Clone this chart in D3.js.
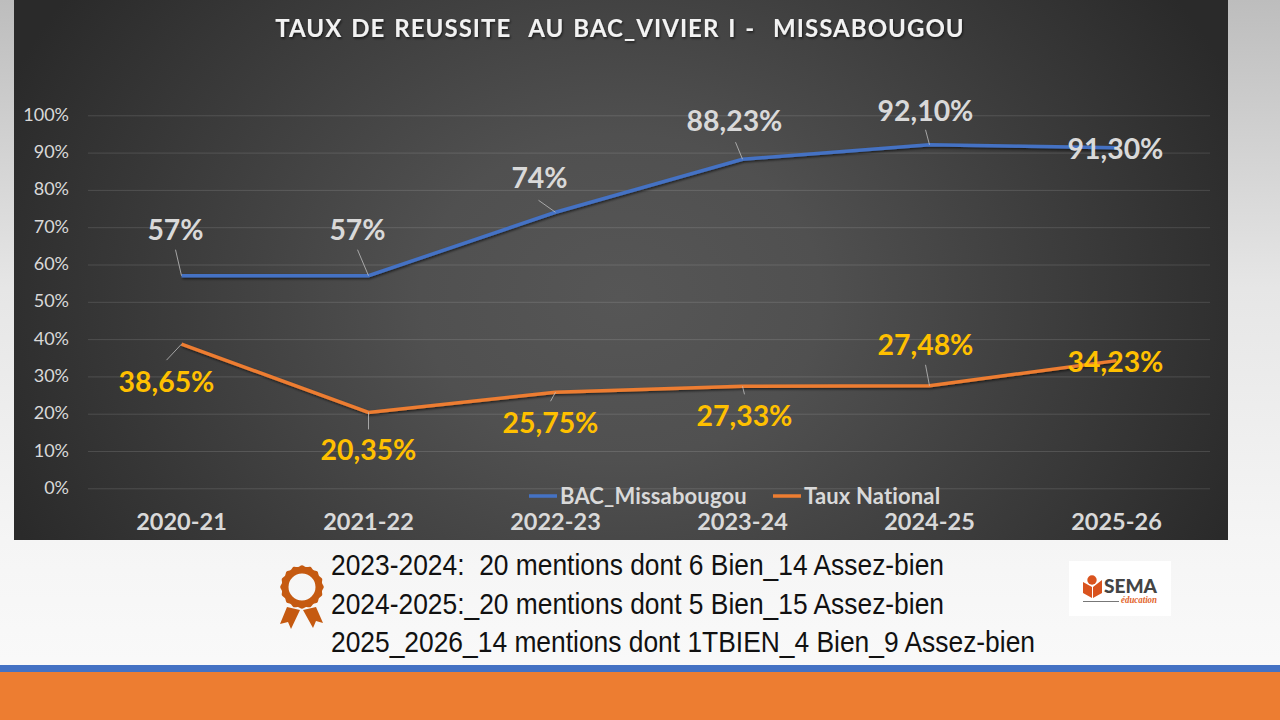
<!DOCTYPE html>
<html lang="fr">
<head>
<meta charset="UTF-8">
<title>Taux de reussite au BAC</title>
<script src="https://d3js.org/d3.v7.min.js"></script>
<style>
    html, body { margin: 0; padding: 0; overflow: hidden; }
    svg { display: block; }
    text { white-space: pre; }
</style>
</head>
<body>
<svg id="chart" width="1280" height="720"></svg>
<script>
// Data
const years = ['2020-21', '2021-22', '2022-23', '2023-24', '2024-25', '2025-26'];
const bacMissabougou = [57, 57, 74, 88.23, 92.1, 91.3];
const tauxNational = [38.65, 20.35, 25.75, 27.33, 27.48, 34.23];
const bacLabels = ['57%', '57%', '74%', '88,23%', '92,10%', '91,30%'];
const nationalLabels = ['38,65%', '20,35%', '25,75%', '27,33%', '27,48%', '34,23%'];
const yTicks = [0, 10, 20, 30, 40, 50, 60, 70, 80, 90, 100];
const seriesNames = ['BAC_Missabougou', 'Taux National'];
const titleText = 'TAUX DE REUSSITE  AU BAC_VIVIER I -  MISSABOUGOU';
const mentions = [
    '2023-2024:  20 mentions dont 6 Bien_14 Assez-bien',
    '2024-2025:_20 mentions dont 5 Bien_15 Assez-bien',
    '2025_2026_14 mentions dont 1TBIEN_4 Bien_9 Assez-bien'
];

// label placement relative to its point: [dx, dy of label centre], leader start [dx, dy]
const bacOffsets = [[-6, -46, -6, -26], [-11, -46, -11, -26], [-16, -34, -17, -12], [-8, -38, -7, -17], [-4, -34, -4, -15], [-1, 1, 0, 0]];
const natOffsets = [[-15, 38, -15, 16], [0, 38, 0, 17], [-5, 31, -5, 9], [2, 30, 2, 8], [-4, -41, -4, -21], [-1, 1, 0, 0]];

const svg = d3.select('#chart');
const defs = svg.append('defs');

const pageGrad = defs.append('linearGradient').attr('id', 'pageBg')
    .attr('x1', 0).attr('y1', 0).attr('x2', 0).attr('y2', 1);
pageGrad.append('stop').attr('offset', '0%').attr('stop-color', '#bdbdbd');
pageGrad.append('stop').attr('offset', '40%').attr('stop-color', '#e6e6e6');
pageGrad.append('stop').attr('offset', '75%').attr('stop-color', '#f5f5f5');
pageGrad.append('stop').attr('offset', '100%').attr('stop-color', '#fbfbfb');

const panelGrad = defs.append('radialGradient').attr('id', 'panelBg')
    .attr('cx', 0.5).attr('cy', 0.55).attr('r', 1)
    .attr('gradientTransform', 'translate(0.5,0.55) scale(0.55,1) translate(-0.5,-0.55)');
panelGrad.append('stop').attr('offset', '0%').attr('stop-color', '#565656');
panelGrad.append('stop').attr('offset', '30%').attr('stop-color', '#505050');
panelGrad.append('stop').attr('offset', '100%').attr('stop-color', '#2a2a2a');

const shadow = defs.append('filter').attr('id', 'shadow')
    .attr('x', '-5%').attr('y', '-30%').attr('width', '110%').attr('height', '170%');
shadow.append('feDropShadow').attr('dx', 1).attr('dy', 1.5).attr('stdDeviation', 1.2)
    .attr('flood-color', '#000').attr('flood-opacity', 0.6);

// Background
svg.append('rect').attr('width', 1280).attr('height', 720).attr('fill', 'url(#pageBg)');
svg.append('rect').attr('x', 14).attr('y', 0).attr('width', 1214).attr('height', 540).attr('fill', 'url(#panelBg)');
svg.append('rect').attr('x', 0).attr('y', 665).attr('width', 1280).attr('height', 7).attr('fill', '#4472c4');
svg.append('rect').attr('x', 0).attr('y', 672).attr('width', 1280).attr('height', 48).attr('fill', '#ed7d31');

// Scales
const x = d3.scaleBand().domain(years).range([88, 1210]);
const y = d3.scaleLinear().domain([0, 100]).range([488.3, 115.3]);
const cx = d => x(d) + x.bandwidth() / 2;

// Title
svg.append('text').attr('x', 620).attr('y', 37)
    .attr('text-anchor', 'middle')
    .attr('font-family', 'Lato').attr('font-weight', 700).attr('font-size', 24)
    .attr('letter-spacing', 1.05).attr('word-spacing', 2).attr('fill', '#f2f2f2')
    .attr('filter', 'url(#shadow)')
    .text(titleText);

// Y axis + grid
const yAxis = svg.append('g').attr('transform', 'translate(88,0)')
    .call(d3.axisLeft(y).tickValues(yTicks).tickSize(-1122).tickPadding(19).tickFormat(d => d + '%'));
yAxis.select('.domain').remove();
yAxis.selectAll('line').attr('stroke', '#fff').attr('stroke-opacity', 0.13);
yAxis.selectAll('text').attr('font-family', 'Lato').attr('font-size', 18).attr('fill', '#d9d9d9').attr('dy', '0.28em');

// X axis
const xAxis = svg.append('g').attr('transform', 'translate(0,489)')
    .call(d3.axisBottom(x).tickSize(0).tickPadding(24));
xAxis.select('.domain').remove();
xAxis.selectAll('text').attr('font-family', 'Lato').attr('font-weight', 700).attr('font-size', 23.5).attr('fill', '#d9d9d9');

// Lines
const line = d3.line().x((d, i) => cx(years[i])).y(d => y(d));
function drawSeries(values, color) {
    svg.append('path').datum(values)
        .attr('fill', 'none').attr('stroke', color).attr('stroke-width', 3.5)
        .attr('filter', 'url(#shadow)').attr('d', line);
}
drawSeries(bacMissabougou, '#4472c4');
drawSeries(tauxNational, '#ed7d31');

// Data labels + leader lines
function drawLabels(values, labels, offsets, color) {
    values.forEach((v, i) => {
        const px = cx(years[i]), py = y(v), o = offsets[i];
        if (o[2] || o[3]) {
            svg.append('line').attr('x1', px + o[2]).attr('y1', py + o[3]).attr('x2', px).attr('y2', py)
                .attr('stroke', '#bfbfbf').attr('stroke-width', 0.8);
        }
        svg.append('text').attr('x', px + o[0]).attr('y', py + o[1])
            .attr('dy', '0.35em').attr('text-anchor', 'middle')
            .attr('font-family', 'Lato').attr('font-weight', 700).attr('font-size', 28.4)
            .attr('fill', color).text(labels[i]);
    });
}
drawLabels(bacMissabougou, bacLabels, bacOffsets, '#d9d9d9');
drawLabels(tauxNational, nationalLabels, natOffsets, '#ffc000');

// Legend
const legendColors = ['#4472c4', '#ed7d31'];
const legendX = [529, 773];
seriesNames.forEach((name, i) => {
    svg.append('line').attr('x1', legendX[i]).attr('x2', legendX[i] + 28).attr('y1', 496).attr('y2', 496)
        .attr('stroke', legendColors[i]).attr('stroke-width', 3.5);
    svg.append('text').attr('x', legendX[i] + 31).attr('y', 496).attr('dy', '0.35em')
        .attr('font-family', 'Lato').attr('font-weight', 700).attr('font-size', 22)
        .attr('letter-spacing', 0.15).attr('fill', '#d9d9d9').text(name);
});

// Mentions text
svg.selectAll('.mention').data(mentions).enter().append('text')
    .attr('class', 'mention')
    .attr('x', 331).attr('y', (d, i) => 575 + i * 38.5)
    .attr('font-family', 'Liberation Sans').attr('font-size', 29).attr('fill', '#111')
    .attr('textLength', (d, i) => [613, 613, 704][i]).attr('lengthAdjust', 'spacingAndGlyphs')
    .text(d => d);

// Ribbon icon
const badge = svg.append('g').attr('transform', 'translate(302,587)').attr('fill', '#c55a11');
badge.append('path').attr('d', 'M-15,20 L-22,37 L-14,35 L-11,42 L-2,23 Z');
badge.append('path').attr('d', 'M14,20 L21,36 L14,34 L11,41 L1,23 Z');
const scallop = d3.lineRadial().curve(d3.curveCardinalClosed)
    .angle(d => d * Math.PI / 16)
    .radius(d => d % 2 ? 20.4 : 21.8);
const ringPath = scallop(d3.range(32)) + d3.arc()({ innerRadius: 0, outerRadius: 13.5, startAngle: 0, endAngle: 2 * Math.PI });
badge.append('path').attr('fill-rule', 'evenodd').attr('d', ringPath);

// Logo
const logo = svg.append('g').attr('transform', 'translate(1069,561)');
logo.append('rect').attr('width', 102).attr('height', 55).attr('fill', '#fff');
logo.append('circle').attr('cx', 23).attr('cy', 19).attr('r', 4.7).attr('fill', '#d9531e');
logo.append('path').attr('d', 'M14,21 L23,26 V37 L14,32 Z M33,19 L24,26 V37 L33,32 Z').attr('fill', '#d9531e');
logo.append('text').attr('x', 35).attr('y', 32)
    .attr('font-family', 'Lato').attr('font-weight', 900).attr('font-size', 19.5).attr('fill', '#444')
    .attr('textLength', 53).attr('lengthAdjust', 'spacingAndGlyphs').text('SEMA');
logo.append('line').attr('x1', 14).attr('x2', 50).attr('y1', 40.5).attr('y2', 40.5).attr('stroke', '#777').attr('stroke-width', 1);
logo.append('text').attr('x', 52).attr('y', 42)
    .attr('font-family', 'Liberation Serif').attr('font-style', 'italic').attr('font-weight', 700).attr('font-size', 11).attr('fill', '#e2632a')
    .attr('textLength', 36).attr('lengthAdjust', 'spacingAndGlyphs').text('éducation');
</script>
</body>
</html>
